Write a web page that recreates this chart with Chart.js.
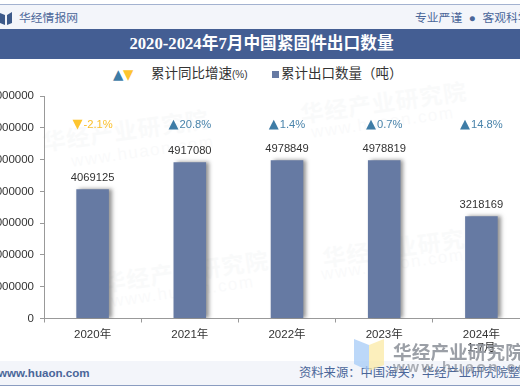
<!DOCTYPE html>
<html>
<head>
<meta charset="utf-8">
<script src="https://cdn.jsdelivr.net/npm/chart.js@4/dist/chart.umd.min.js"></script>
<style>
    html, body { margin: 0; padding: 0; background: #fff; }
    body { width: 520px; height: 390px; position: relative; overflow: hidden; font-family: "Liberation Sans", "Noto Sans CJK SC", sans-serif; }
    .abs { position: absolute; white-space: nowrap; }
    #topBar { left: 0; top: 4px; width: 520px; height: 25px; background: #f3f5fa; border-top: 1.5px solid #a3b2d0; box-sizing: border-box; }
    #titleBar { left: 0; top: 29px; width: 520px; height: 30px; background: #445e93; color: #fff; text-align: center; padding-left: 3px; box-sizing: border-box; font: bold 16.7px/30px "Liberation Serif", "Noto Sans CJK SC"; }
    #footBar { left: 0; top: 361px; width: 520px; height: 25px; background: #f3f5fa; border-bottom: 1.5px solid #8a9cc0; box-sizing: border-box; }
    .blue { color: #4a6699; font-size: 12px; line-height: 14px; }
    .legend { color: #333; font-size: 13.5px; line-height: 16px; top: 66px; }
    .wm { color: #b9bfc9; opacity: .07; font-weight: bold; transform: rotate(-8deg); transform-origin: left top; font-size: 23px; letter-spacing: 1px; }
    .wmUrl { color: #b9bfc9; opacity: .07; transform: rotate(-8deg); transform-origin: left top; font-size: 17px; letter-spacing: 1.5px; }
    #chartBox { left: 0; top: 0; width: 530px; height: 390px; }
</style>
</head>
<body>
<div class="abs" id="topBar"></div>
<div class="abs" id="titleBar">2020-2024年7月中国紧固件出口数量</div>
<div class="abs" id="footBar"></div>

<svg class="abs" style="left:0;top:12px" width="13" height="13" viewBox="0 0 13 13">
    <path d="M0 1 L5 3 L5 13 L0 11 Z M7 3 L12 0 L12 11 L7 13 Z" fill="#3d5a8a"/>
</svg>
<div class="abs blue" style="left:19px;top:11px;font-size:11.8px">华经情报网</div>
<div class="abs blue" style="left:415px;top:11px;font-size:11.8px">专业严谨&nbsp; ●&nbsp; 客观科学</div>
<div class="abs blue" style="left:-2px;top:366px;font-size:11.6px;font-weight:bold">www.huaon.com</div>
<div class="abs blue" style="left:299px;top:366px;font-size:12.3px">资料来源：中国海关，华经产业研究院整理</div>

<div class="abs legend" style="left:113px;top:66px;font-size:13.5px;letter-spacing:-.5px;font-family:'DejaVu Sans'"><span style="color:#3e7ca6">▲</span><span style="color:#fdc52f">▼</span></div>
<div class="abs legend" style="left:151px">累计同比增速<span style="font-size:10px">(%)</span></div>
<div class="abs" style="left:272px;top:71px;width:7px;height:7px;background:#667aa3"></div>
<div class="abs legend" style="left:281px;">累计出口数量（吨）</div>

<div class="abs wm" style="left:40px;top:124px">华经产业研究院</div>
<div class="abs wmUrl" style="left:70px;top:152px">www.huaon.com</div>
<div class="abs wm" style="left:298px;top:96px">华经产业研究院</div>
<div class="abs wmUrl" style="left:310px;top:123px">www.huaon.com</div>
<div class="abs wm" style="left:100px;top:265px">华经产业研究院</div>
<div class="abs wmUrl" style="left:110px;top:292px">www.huaon.com</div>
<div class="abs wm" style="left:320px;top:240px">华经产业研究院</div>
<div class="abs wmUrl" style="left:320px;top:265px">www.huaon.com</div>

<div class="abs" id="chartBox"><canvas id="chart"></canvas></div>

<svg class="abs" style="left:354px;top:338px;opacity:.75" width="30" height="34" viewBox="0 0 30 34">
    <path d="M0 1 L15 7 L15 33 L0 26 Z" fill="#a6cbf7"/>
    <path d="M15 7 L30 1 L30 27 L15 33 Z" fill="#fbeaa6"/>
</svg>
<div class="abs" style="left:393px;top:337px;font-size:18.6px;font-weight:bold;color:#8a8f97;opacity:.85;letter-spacing:.1px">华经产业研究院</div>
<div class="abs" style="left:393px;top:358px;font-size:15px;font-weight:bold;color:#8a8f97;opacity:.7;letter-spacing:2.6px">www.huaon.com</div>

<script>
const categories = ['2020年', '2021年', '2022年', '2023年', ['2024年', '1-7月']];
const exportQty = [4069125, 4917080, 4978849, 4978819, 3218169];
const growthRate = [-2.1, 20.8, 1.4, 0.7, 14.8];
const growthLevel = [6000000, 6000000, 6000000, 6000000, 6000000];
const yTicks = [0, 1000000, 2000000, 3000000, 4000000, 5000000, 6000000, 7000000];

const tickFont = { family: '"Liberation Sans", "Noto Sans CJK SC"', size: 11.5 };

const labelPlugin = {
    id: 'labelPlugin',
    // 막대 그림자
    beforeDatasetDraw(chart, args) {
        if (args.index === 0) {
            chart.ctx.save();
            chart.ctx.shadowColor = 'rgba(60,60,60,.55)';
            chart.ctx.shadowBlur = 4;
            chart.ctx.shadowOffsetX = 3;
        }
    },
    afterDatasetDraw(chart, args) {
        if (args.index === 0) chart.ctx.restore();
    },
    afterDatasetsDraw(chart) {
        const ctx = chart.ctx;
        ctx.save();
        ctx.textBaseline = 'bottom';

        const bars = chart.getDatasetMeta(0).data;
        ctx.textAlign = 'center';
        ctx.font = '11.2px "Liberation Sans"';
        ctx.fillStyle = '#333';
        bars.forEach((bar, i) => ctx.fillText(exportQty[i], bar.x, bar.y - 6));

        // 증감 표시: 삼각형 글자 + 퍼센트
        ctx.textAlign = 'left';
        const points = chart.getDatasetMeta(1).data;
        points.forEach((pt, i) => {
            const up = growthRate[i] >= 0;
            const mark = up ? '▲' : '▼';
            const text = growthRate[i] + '%';
            ctx.font = '11.2px "Liberation Sans"';
            const textW = ctx.measureText(text).width;
            ctx.fillStyle = up ? '#4a84ab' : '#fbc02d';
            const left = pt.x - (textW + 11) / 2;
            ctx.fillText(text, left + 11, pt.y + 3);
            ctx.font = '13px "DejaVu Sans"';
            ctx.fillStyle = up ? '#3e7ca6' : '#fdc52f';
            ctx.fillText(mark, left, pt.y + 3);
        });
        ctx.restore();
    }
};

new Chart(document.getElementById('chart'), {
    type: 'bar',
    data: {
        labels: categories,
        datasets: [{
            label: '累计出口数量（吨）',
            data: exportQty,
            backgroundColor: '#667aa3',
            barPercentage: 0.5,
            categoryPercentage: 0.67,
            order: 2
        }, {
            type: 'line',
            label: '累计同比增速(%)',
            data: growthLevel,
            showLine: false,
            pointRadius: 0,
            order: 1
        }]
    },
    options: {
        responsive: true,
        maintainAspectRatio: false,
        animation: false,
        layout: { padding: { top: 96, left: 0, right: 0, bottom: 0 } },
        plugins: { legend: { display: false }, tooltip: { enabled: false } },
        scales: {
            x: {
                grid: { drawOnChartArea: false, color: '#999', tickLength: 4 },
                border: { color: '#999' },
                ticks: { color: '#333', font: tickFont, padding: 5, maxRotation: 0, autoSkip: false },
                afterFit(scale) { scale.height = 71.5; }
            },
            y: {
                min: 0,
                max: 7000000,
                afterBuildTicks(scale) { scale.ticks = yTicks.map(v => ({ value: v })); },
                grid: { drawOnChartArea: false, color: '#999', tickLength: 4 },
                border: { color: '#999' },
                ticks: { color: '#333', font: tickFont, padding: 6, callback: v => String(v) },
                afterFit(scale) { scale.width = 44; }
            }
        }
    },
    plugins: [labelPlugin]
});
</script>
</body>
</html>
